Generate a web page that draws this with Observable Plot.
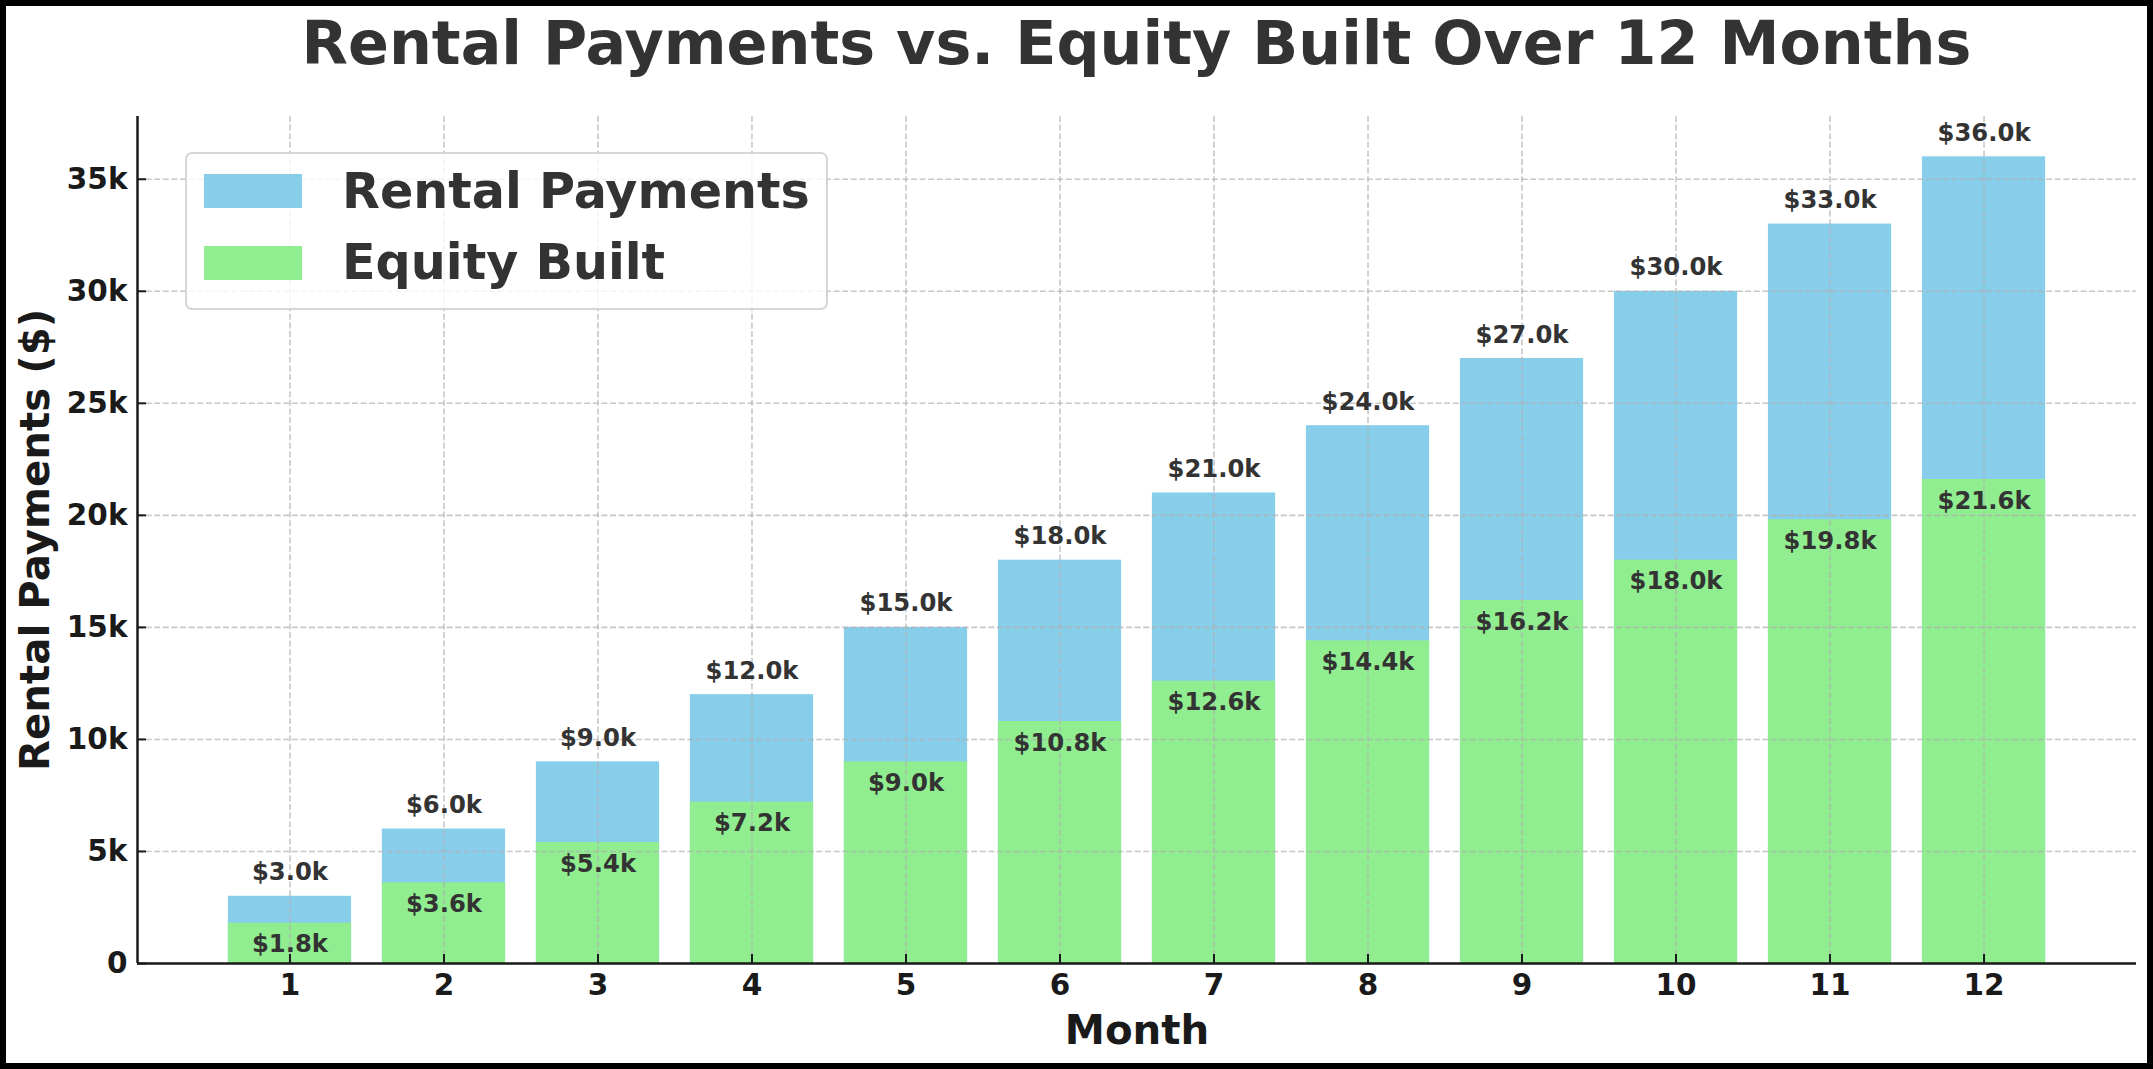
<!DOCTYPE html>
<html>
<head>
<meta charset="utf-8">
<script src="https://cdn.jsdelivr.net/npm/d3@7"></script>
<script src="https://cdn.jsdelivr.net/npm/@observablehq/plot@0.6"></script>
<style>
  html, body { margin: 0; padding: 0; background: #fff; }
  #wrap {
    position: relative; width: 2153px; height: 1069px; box-sizing: border-box;
    border: 6px solid #000; background: #fff; overflow: hidden;
    font-family: "DejaVu Sans", sans-serif; font-weight: bold;
  }
  #title {
    position: absolute; left: 131px; width: 1999px; top: 7px;
    text-align: center; font-size: 60.3px; line-height: 60px; color: #333; white-space: nowrap;
  }
  #chart { position: absolute; left: 0; top: 100px; }
  #legend {
    position: absolute; left: 179px; top: 146px; width: 643px; height: 158px; box-sizing: border-box;
    border: 2px solid #d6d6d6; border-radius: 7px; background: rgba(255,255,255,0.8);
  }
  .sw { position: absolute; left: 17px; width: 98px; height: 34px; }
  .lt { position: absolute; left: 155px; font-size: 49.2px; line-height: 49px; color: #333; white-space: nowrap; }
</style>
</head>
<body>
<div id="wrap">
  <div id="title">Rental Payments vs. Equity Built Over 12 Months</div>
  <div id="chart"></div>
  <div id="legend">
    <div class="sw" id="sw1" style="top:20px;"></div>
    <div class="lt" id="lt1" style="top:12.5px;"></div>
    <div class="sw" id="sw2" style="top:92px;"></div>
    <div class="lt" id="lt2" style="top:83.5px;"></div>
  </div>
</div>
<script>
const months = [1, 2, 3, 4, 5, 6, 7, 8, 9, 10, 11, 12];
const rentalPayments = [3000, 6000, 9000, 12000, 15000, 18000, 21000, 24000, 27000, 30000, 33000, 36000];
const equityBuilt = [1800, 3600, 5400, 7200, 9000, 10800, 12600, 14400, 16200, 18000, 19800, 21600];
const yTicks = [0, 5000, 10000, 15000, 20000, 25000, 30000, 35000];
const seriesNames = ["Rental Payments", "Equity Built"];
const seriesColors = ["#87CEEB", "#90EE90"];

const data = months.map((m, i) => ({month: m, rent: rentalPayments[i], equity: equityBuilt[i]}));
const fmtK = v => `$${(v / 1000).toFixed(1)}k`;

const W = 2141, H = 957, ML = 131, MR = 11, MT = 10, MB = 100;
const frameW = W - ML - MR, frameH = H - MT - MB;
const xDomain = [0.01, 12.99];
const yDomain = [0, 37800];
const gridStyle = {stroke: "#b0b0b0", strokeOpacity: 0.7, strokeWidth: 1.6, strokeDasharray: "6,2.6"};

const chart = Plot.plot({
  width: W, height: H,
  marginLeft: ML, marginRight: MR, marginTop: MT, marginBottom: MB,
  style: {fontFamily: "DejaVu Sans", fontWeight: "bold", color: "#1a1a1a", background: "transparent", overflow: "visible"},
  x: {type: "linear", domain: xDomain},
  y: {domain: yDomain},
  marks: [
    Plot.rectY(data, {x1: d => d.month - 0.4, x2: d => d.month + 0.4, y: "rent", fill: seriesColors[0]}),
    Plot.rectY(data, {x1: d => d.month - 0.4, x2: d => d.month + 0.4, y: "equity", fill: seriesColors[1]}),
    Plot.gridY(yTicks, gridStyle),
    Plot.gridX(months, gridStyle),
    Plot.text(data, {x: "month", y: "rent", text: d => fmtK(d.rent), dy: -16, lineAnchor: "bottom", fontSize: 24.3, fontWeight: "bold", fill: "#333"}),
    Plot.text(data, {x: "month", y: "equity", text: d => fmtK(d.equity), dy: 29, lineAnchor: "bottom", fontSize: 24.3, fontWeight: "bold", fill: "#333"}),
    Plot.axisY({ticks: yTicks, tickFormat: d => d === 0 ? "0" : `${d / 1000}k`, tickSize: 0, tickPadding: 10, fontSize: 29.5, fontWeight: "bold", label: null}),
    Plot.axisX({ticks: months, tickFormat: d => String(d), tickSize: 0, tickPadding: 11, fontSize: 29.5, fontWeight: "bold", label: null}),
    Plot.tickY(yTicks, {y: d => d, insetRight: frameW - 9, stroke: "#1a1a1a", strokeWidth: 2}),
    Plot.tickX(months, {x: d => d, insetTop: frameH - 9, stroke: "#1a1a1a", strokeWidth: 2}),
    Plot.ruleY([0], {stroke: "#1a1a1a", strokeWidth: 2.5}),
    Plot.ruleX([xDomain[0]], {stroke: "#1a1a1a", strokeWidth: 2.5}),
    Plot.text(["Month"], {frameAnchor: "bottom", text: d => d, lineAnchor: "bottom", dy: 80, fontSize: 40.3, fontWeight: "bold", fill: "#1a1a1a"}),
    Plot.text(["Rental Payments ($)"], {frameAnchor: "left", text: d => d, rotate: -90, textAnchor: "middle", lineAnchor: "bottom", dx: -89, fontSize: 40.3, fontWeight: "bold", fill: "#1a1a1a"})
  ]
});
document.getElementById("chart").appendChild(chart);

document.getElementById("sw1").style.background = seriesColors[0];
document.getElementById("sw2").style.background = seriesColors[1];
document.getElementById("lt1").textContent = seriesNames[0];
document.getElementById("lt2").textContent = seriesNames[1];
</script>
</body>
</html>
